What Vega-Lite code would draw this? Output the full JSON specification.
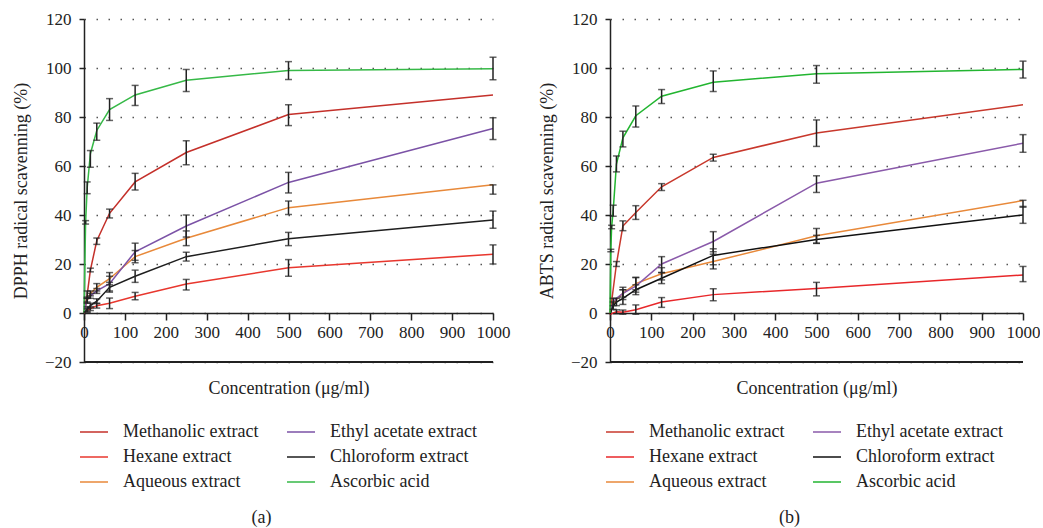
{
  "$schema": "https://vega.github.io/schema/vega-lite/v6.json",
  "padding": {"left": 12, "top": 10, "right": 0, "bottom": 0},
  "datasets": {
    "dpph": [
      {"s": "Methanolic extract", "c": 0, "v": 0, "lo": null, "hi": null},
      {"s": "Methanolic extract", "c": 7.8, "v": 7.5, "lo": 6, "hi": 9},
      {"s": "Methanolic extract", "c": 15.6, "v": 17.5, "lo": 16.8, "hi": 18.3},
      {"s": "Methanolic extract", "c": 31.25, "v": 29.5, "lo": 28, "hi": 30.6},
      {"s": "Methanolic extract", "c": 62.5, "v": 40.7, "lo": 38.8, "hi": 42.4},
      {"s": "Methanolic extract", "c": 125, "v": 53.5, "lo": 50.2, "hi": 57},
      {"s": "Methanolic extract", "c": 250, "v": 65.5, "lo": 60.5, "hi": 70.3},
      {"s": "Methanolic extract", "c": 500, "v": 81, "lo": 76.5, "hi": 85},
      {"s": "Methanolic extract", "c": 1000, "v": 89, "lo": null, "hi": null},
      {"s": "Hexane extract", "c": 0, "v": 0, "lo": null, "hi": null},
      {"s": "Hexane extract", "c": 7.8, "v": 1, "lo": 0.3, "hi": 1.7},
      {"s": "Hexane extract", "c": 15.6, "v": 1.8, "lo": 1, "hi": 2.6},
      {"s": "Hexane extract", "c": 31.25, "v": 3, "lo": 2, "hi": 4},
      {"s": "Hexane extract", "c": 62.5, "v": 4, "lo": 1.8, "hi": 6.1},
      {"s": "Hexane extract", "c": 125, "v": 6.8, "lo": 5.4, "hi": 8.4},
      {"s": "Hexane extract", "c": 250, "v": 11.8, "lo": 9.4, "hi": 13.7},
      {"s": "Hexane extract", "c": 500, "v": 18.5, "lo": 15, "hi": 21.8},
      {"s": "Hexane extract", "c": 1000, "v": 24, "lo": 20, "hi": 27.8},
      {"s": "Aqueous extract", "c": 0, "v": 0, "lo": null, "hi": null},
      {"s": "Aqueous extract", "c": 7.8, "v": 5, "lo": 4, "hi": 6},
      {"s": "Aqueous extract", "c": 15.6, "v": 8, "lo": 7, "hi": 9},
      {"s": "Aqueous extract", "c": 31.25, "v": 10.5, "lo": 9, "hi": 12},
      {"s": "Aqueous extract", "c": 62.5, "v": 14, "lo": 11.5, "hi": 16.5},
      {"s": "Aqueous extract", "c": 125, "v": 23, "lo": 20.5, "hi": 25.5},
      {"s": "Aqueous extract", "c": 250, "v": 30.5, "lo": 27.5, "hi": 33.5},
      {"s": "Aqueous extract", "c": 500, "v": 43, "lo": 40.2, "hi": 45.7},
      {"s": "Aqueous extract", "c": 1000, "v": 52.3, "lo": 48.5, "hi": 52.3},
      {"s": "Ethyl acetate extract", "c": 0, "v": 0, "lo": null, "hi": null},
      {"s": "Ethyl acetate extract", "c": 7.8, "v": 5.5, "lo": 4.5, "hi": 6.5},
      {"s": "Ethyl acetate extract", "c": 15.6, "v": 7, "lo": 6, "hi": 8},
      {"s": "Ethyl acetate extract", "c": 31.25, "v": 9, "lo": 8, "hi": 10},
      {"s": "Ethyl acetate extract", "c": 62.5, "v": 12, "lo": 9, "hi": 15},
      {"s": "Ethyl acetate extract", "c": 125, "v": 25, "lo": 21.5, "hi": 28.5},
      {"s": "Ethyl acetate extract", "c": 250, "v": 35.5, "lo": 31, "hi": 40},
      {"s": "Ethyl acetate extract", "c": 500, "v": 53.3, "lo": 49, "hi": 57.4},
      {"s": "Ethyl acetate extract", "c": 1000, "v": 75.3, "lo": 70.8, "hi": 79.7},
      {"s": "Chloroform extract", "c": 0, "v": 0, "lo": null, "hi": null},
      {"s": "Chloroform extract", "c": 7.8, "v": 1.5, "lo": 0.5, "hi": 2.5},
      {"s": "Chloroform extract", "c": 15.6, "v": 3, "lo": 2, "hi": 4},
      {"s": "Chloroform extract", "c": 31.25, "v": 4.8, "lo": 3.8, "hi": 5.8},
      {"s": "Chloroform extract", "c": 62.5, "v": 10.5, "lo": 8.5, "hi": 12.5},
      {"s": "Chloroform extract", "c": 125, "v": 15, "lo": 12.5, "hi": 17.5},
      {"s": "Chloroform extract", "c": 250, "v": 23, "lo": 21.2, "hi": 24.8},
      {"s": "Chloroform extract", "c": 500, "v": 30.3, "lo": 27.5, "hi": 32.9},
      {"s": "Chloroform extract", "c": 1000, "v": 38, "lo": 34.6, "hi": 41.6},
      {"s": "Ascorbic acid", "c": 0, "v": 0, "lo": null, "hi": null},
      {"s": "Ascorbic acid", "c": 3.9, "v": 37, "lo": 36.3, "hi": 37.7},
      {"s": "Ascorbic acid", "c": 7.8, "v": 51, "lo": 48.7, "hi": 53.5},
      {"s": "Ascorbic acid", "c": 15.6, "v": 65, "lo": 59.5, "hi": 66.3},
      {"s": "Ascorbic acid", "c": 31.25, "v": 74.5, "lo": 70.5, "hi": 77.5},
      {"s": "Ascorbic acid", "c": 62.5, "v": 83, "lo": 78.6, "hi": 87.5},
      {"s": "Ascorbic acid", "c": 125, "v": 89, "lo": 84.7, "hi": 92.9},
      {"s": "Ascorbic acid", "c": 250, "v": 95, "lo": 90.4, "hi": 99.4},
      {"s": "Ascorbic acid", "c": 500, "v": 99, "lo": 95.3, "hi": 102.6},
      {"s": "Ascorbic acid", "c": 1000, "v": 99.7, "lo": 95.2, "hi": 104.4}
    ],
    "abts": [
      {"s": "Methanolic extract", "c": 0, "v": -0.5, "lo": null, "hi": null},
      {"s": "Methanolic extract", "c": 15.6, "v": 20, "lo": 19, "hi": 21},
      {"s": "Methanolic extract", "c": 31.25, "v": 35.5, "lo": 33.6, "hi": 37.6},
      {"s": "Methanolic extract", "c": 62.5, "v": 41, "lo": 38.2, "hi": 43.8},
      {"s": "Methanolic extract", "c": 125, "v": 51.5, "lo": 50, "hi": 52.8},
      {"s": "Methanolic extract", "c": 250, "v": 63.5, "lo": 62, "hi": 64.8},
      {"s": "Methanolic extract", "c": 500, "v": 73.5, "lo": 68, "hi": 78.8},
      {"s": "Methanolic extract", "c": 1000, "v": 85, "lo": null, "hi": null},
      {"s": "Hexane extract", "c": 0, "v": -0.5, "lo": null, "hi": null},
      {"s": "Hexane extract", "c": 15.6, "v": 0.5, "lo": -0.3, "hi": 1.3},
      {"s": "Hexane extract", "c": 31.25, "v": 0.3, "lo": -0.5, "hi": 1.2},
      {"s": "Hexane extract", "c": 62.5, "v": 1.3, "lo": -0.5, "hi": 3.3},
      {"s": "Hexane extract", "c": 125, "v": 4.5, "lo": 2.3, "hi": 6.3},
      {"s": "Hexane extract", "c": 250, "v": 7.5, "lo": 5, "hi": 9.9},
      {"s": "Hexane extract", "c": 500, "v": 10, "lo": 7, "hi": 12.5},
      {"s": "Hexane extract", "c": 1000, "v": 15.5, "lo": 12.8, "hi": 19},
      {"s": "Aqueous extract", "c": 0, "v": 0, "lo": null, "hi": null},
      {"s": "Aqueous extract", "c": 7.8, "v": 3.5, "lo": null, "hi": null},
      {"s": "Aqueous extract", "c": 15.6, "v": 5.5, "lo": null, "hi": null},
      {"s": "Aqueous extract", "c": 31.25, "v": 8, "lo": 6.5, "hi": 9.5},
      {"s": "Aqueous extract", "c": 62.5, "v": 12, "lo": 9.5, "hi": 14.5},
      {"s": "Aqueous extract", "c": 125, "v": 16, "lo": 13.5, "hi": 18.5},
      {"s": "Aqueous extract", "c": 250, "v": 21, "lo": 18, "hi": 24},
      {"s": "Aqueous extract", "c": 500, "v": 31.5, "lo": 28.5, "hi": 34.5},
      {"s": "Aqueous extract", "c": 1000, "v": 45.9, "lo": 43.2, "hi": 46},
      {"s": "Ethyl acetate extract", "c": 0, "v": 0, "lo": null, "hi": null},
      {"s": "Ethyl acetate extract", "c": 7.8, "v": 4.5, "lo": 3, "hi": 6},
      {"s": "Ethyl acetate extract", "c": 15.6, "v": 6, "lo": null, "hi": null},
      {"s": "Ethyl acetate extract", "c": 31.25, "v": 8, "lo": 5.5, "hi": 10.5},
      {"s": "Ethyl acetate extract", "c": 62.5, "v": 11, "lo": 8.5, "hi": 14.5},
      {"s": "Ethyl acetate extract", "c": 125, "v": 20, "lo": 16.5, "hi": 23},
      {"s": "Ethyl acetate extract", "c": 250, "v": 29.2, "lo": 25, "hi": 33.2},
      {"s": "Ethyl acetate extract", "c": 500, "v": 53, "lo": 49.2, "hi": 56},
      {"s": "Ethyl acetate extract", "c": 1000, "v": 69.3, "lo": 65.6, "hi": 72.8},
      {"s": "Chloroform extract", "c": 0, "v": -0.5, "lo": null, "hi": null},
      {"s": "Chloroform extract", "c": 7.8, "v": 3, "lo": 1.5, "hi": 4.5},
      {"s": "Chloroform extract", "c": 15.6, "v": 4.5, "lo": 3, "hi": 6},
      {"s": "Chloroform extract", "c": 31.25, "v": 6, "lo": 3.5, "hi": 9.5},
      {"s": "Chloroform extract", "c": 62.5, "v": 9.5, "lo": 7.5, "hi": 11.5},
      {"s": "Chloroform extract", "c": 125, "v": 14.2, "lo": 12, "hi": 16.5},
      {"s": "Chloroform extract", "c": 250, "v": 23.5, "lo": 19.7, "hi": 26.2},
      {"s": "Chloroform extract", "c": 500, "v": 30, "lo": 28.4, "hi": 31.7},
      {"s": "Chloroform extract", "c": 1000, "v": 40, "lo": 36.6, "hi": 43.5},
      {"s": "Ascorbic acid", "c": 0, "v": 0, "lo": null, "hi": null},
      {"s": "Ascorbic acid", "c": 1.95, "v": 25.5, "lo": 25, "hi": 26},
      {"s": "Ascorbic acid", "c": 3.9, "v": 35, "lo": 34.4, "hi": 35.8},
      {"s": "Ascorbic acid", "c": 7.8, "v": 42, "lo": 39.5, "hi": 44},
      {"s": "Ascorbic acid", "c": 15.6, "v": 60.8, "lo": 57.6, "hi": 64.1},
      {"s": "Ascorbic acid", "c": 31.25, "v": 71.5, "lo": 67.8, "hi": 74.2},
      {"s": "Ascorbic acid", "c": 62.5, "v": 80.5, "lo": 75.9, "hi": 84.5},
      {"s": "Ascorbic acid", "c": 125, "v": 88.5, "lo": 85.5, "hi": 91.2},
      {"s": "Ascorbic acid", "c": 250, "v": 94.2, "lo": 90.4, "hi": 98.8},
      {"s": "Ascorbic acid", "c": 500, "v": 97.7, "lo": 93.8, "hi": 101},
      {"s": "Ascorbic acid", "c": 1000, "v": 99.4, "lo": 95.9, "hi": 102.8}
    ]
  },
  "config": {
    "font": "Liberation Serif",
    "view": {"stroke": null},
    "axis": {
      "labelFont": "Liberation Serif",
      "titleFont": "Liberation Serif",
      "labelFontSize": 17,
      "titleFontSize": 18,
      "titleFontWeight": "normal",
      "labelColor": "#222",
      "titleColor": "#222",
      "domainColor": "#222",
      "tickColor": "#222",
      "domainWidth": 1.5,
      "tickWidth": 1.5
    },
    "legend": {
      "orient": "none",
      "legendX": -5,
      "legendY": 398,
      "columns": 2,
      "symbolType": "stroke",
      "symbolSize": 784,
      "symbolStrokeWidth": 1.5,
      "labelFont": "Liberation Serif",
      "labelFontSize": 18,
      "labelColor": "#222",
      "labelOffset": 14,
      "rowPadding": 1,
      "columnPadding": 25,
      "padding": 0,
      "labelLimit": 300
    },
    "title": {"font": "Liberation Serif", "fontSize": 18, "fontWeight": "normal", "color": "#222"}
  },
  "resolve": {"scale": {"color": "independent"}, "legend": {"color": "independent"}},
  "spacing": 28,
  "hconcat": [
    {
      "width": 409,
      "height": 343,
      "data": {"name": "dpph"},
      "title": {"text": "(a)", "orient": "bottom", "offset": 18, "dx": -27},
      "layer": [
        {
          "mark": {"type": "rule", "color": "#222", "strokeWidth": 1.5},
          "encoding": {"y": {"datum": -20, "type": "quantitative"}}
        },
        {
          "mark": {"type": "line", "strokeWidth": 1.5},
          "encoding": {
            "x": {"field": "c", "type": "quantitative", "scale": {"domain": [0, 1000], "nice": false},
              "axis": {"title": "Concentration (μg/ml)", "values": [0,100,200,300,400,500,600,700,800,900,1000], "format": "d", "offset": -49, "tickSize": 7, "labelPadding": 4, "labelFlush": false, "titlePadding": 39, "grid": false}},
            "y": {"field": "v", "type": "quantitative", "scale": {"domain": [-20, 120], "nice": false},
              "axis": {"title": "DPPH radical scavenning (%)", "values": [-20,0,20,40,60,80,100,120], "tickSize": 5, "labelPadding": 8, "titlePadding": 14, "grid": true, "gridDash": [1.5, 10.5], "gridColor": "#555", "gridWidth": 1.5}},
            "color": {"field": "s", "type": "nominal", "title": null,
              "scale": {"domain": ["Methanolic extract", "Hexane extract", "Aqueous extract", "Ethyl acetate extract", "Chloroform extract", "Ascorbic acid"],
                "range": ["#c4302a", "#e8372e", "#e8893a", "#7b52a6", "#1e1e1e", "#36b947"]}}
          }
        },
        {
          "mark": {"type": "errorbar", "color": "#222", "thickness": 1.5, "ticks": {"size": 7, "thickness": 1.5, "color": "#222"}},
          "encoding": {
            "x": {"field": "c", "type": "quantitative"},
            "y": {"field": "lo", "type": "quantitative", "title": "DPPH radical scavenning (%)"},
            "y2": {"field": "hi"}
          }
        }
      ]
    },
    {
      "width": 413,
      "height": 343,
      "data": {"name": "abts"},
      "title": {"text": "(b)", "orient": "bottom", "offset": 18, "dx": -27},
      "layer": [
        {
          "mark": {"type": "rule", "color": "#222", "strokeWidth": 1.5},
          "encoding": {"y": {"datum": -20, "type": "quantitative"}}
        },
        {
          "mark": {"type": "line", "strokeWidth": 1.5},
          "encoding": {
            "x": {"field": "c", "type": "quantitative", "scale": {"domain": [0, 1000], "nice": false},
              "axis": {"title": "Concentration (μg/ml)", "values": [0,100,200,300,400,500,600,700,800,900,1000], "format": "d", "offset": -49, "tickSize": 7, "labelPadding": 4, "labelFlush": false, "titlePadding": 39, "grid": false}},
            "y": {"field": "v", "type": "quantitative", "scale": {"domain": [-20, 120], "nice": false},
              "axis": {"title": "ABTS radical scavenning (%)", "values": [-20,0,20,40,60,80,100,120], "tickSize": 5, "labelPadding": 8, "titlePadding": 14, "grid": true, "gridDash": [1.5, 10.5], "gridColor": "#555", "gridWidth": 1.5}},
            "color": {"field": "s", "type": "nominal", "title": null,
              "scale": {"domain": ["Methanolic extract", "Hexane extract", "Aqueous extract", "Ethyl acetate extract", "Chloroform extract", "Ascorbic acid"],
                "range": ["#c8382c", "#e8272a", "#e8893a", "#8a5aaa", "#111111", "#22b530"]}}
          }
        },
        {
          "mark": {"type": "errorbar", "color": "#222", "thickness": 1.5, "ticks": {"size": 7, "thickness": 1.5, "color": "#222"}},
          "encoding": {
            "x": {"field": "c", "type": "quantitative"},
            "y": {"field": "lo", "type": "quantitative", "title": "ABTS radical scavenning (%)"},
            "y2": {"field": "hi"}
          }
        }
      ]
    }
  ]
}
